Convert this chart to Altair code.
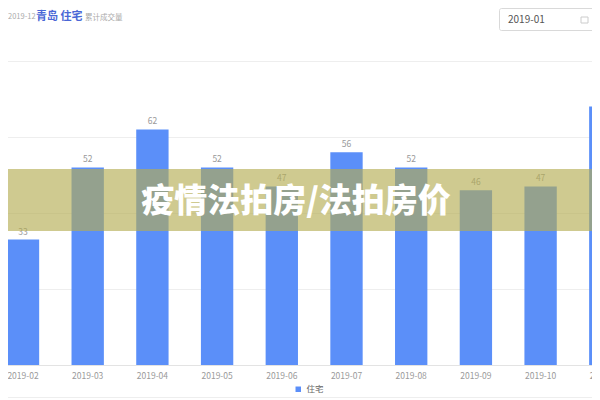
import altair as alt
import pandas as pd

# ---- data ----
months = ["2019-02", "2019-03", "2019-04", "2019-05", "2019-06",
          "2019-07", "2019-08", "2019-09", "2019-10", "2019-11"]
counts = [33, 52, 62, 52, 47, 56, 52, 46, 47, 68]
series = ["住宅"] * len(months)
grid_values = [0, 20, 40, 60, 80]

banner_title = ["疫情法拍房/法拍房价"]
header_date = ["2019-12"]
header_city = ["青岛 住宅"]
header_metric = ["累计成交量"]
picker_value = ["2019-01"]

FONT = "Noto Sans CJK SC"
BLUE = "#5b8ff9"

df = pd.DataFrame({"month": months, "count": counts, "type": series})

x = alt.X(
    "month:N", sort=months,
    scale=alt.Scale(domain=months, range=[-17.35, 629.65],
                    paddingInner=0.5, paddingOuter=0.25),
    axis=alt.Axis(title=None, labelAngle=0, ticks=False, domainColor="#e3e3e3",
                  labelColor="#9a9a9a", labelFontSize=8.5, labelPadding=6,
                  labelFont=FONT),
)
y = alt.Y(
    "count:Q",
    scale=alt.Scale(domain=[0, 80], range=[357, 53], nice=False, zero=True),
    axis=alt.Axis(title=None, labels=False, ticks=False, domain=False, grid=True,
                  values=grid_values, gridColor="#eeeeee"),
)

bars = alt.Chart(df).mark_bar().encode(
    x=x, y=y,
    color=alt.Color("type:N", scale=alt.Scale(domain=["住宅"], range=[BLUE]),
                    legend=alt.Legend(title=None, orient="none", legendX=286, legendY=377,
                                      direction="horizontal", symbolType="square",
                                      symbolSize=30, labelFontSize=8.5, labelColor="#666666",
                                      labelFont=FONT, symbolStrokeWidth=0, padding=0)),
)

labels = alt.Chart(df).mark_text(baseline="bottom", dy=-3, fontSize=8.5, color="#999999",
                                 font=FONT).encode(x=x, y=y, text="count:Q")

banner = alt.Chart(pd.DataFrame({"t": banner_title})).mark_rect(
    color="#b4ac52", opacity=0.64).encode(
    x=alt.value(-8), x2=alt.value(600), y=alt.value(161), y2=alt.value(223))

banner_text = alt.Chart(pd.DataFrame({"t": banner_title})).mark_text(
    fontSize=33, fontWeight=900, color="white", font=FONT,
    align="center", baseline="middle").encode(
    x=alt.value(288), y=alt.value(194), text="t:N")

h1 = alt.Chart(pd.DataFrame({"t": header_date})).mark_text(
    align="left", baseline="middle", fontSize=7.5, color="#aaaaaa", font=FONT).encode(
    x=alt.value(0), y=alt.value(9), text="t:N")
h2 = alt.Chart(pd.DataFrame({"t": header_city})).mark_text(
    align="left", baseline="middle", fontSize=11, fontWeight="bold", color="#4a67d6",
    font=FONT).encode(x=alt.value(28), y=alt.value(9), text="t:N")
h3 = alt.Chart(pd.DataFrame({"t": header_metric})).mark_text(
    align="left", baseline="middle", fontSize=7.5, color="#aaaaaa", font=FONT).encode(
    x=alt.value(77), y=alt.value(10), text="t:N")

box = alt.Chart(pd.DataFrame({"t": picker_value})).mark_rect(
    fill="white", stroke="#d9d9d9", strokeWidth=1, cornerRadius=2).encode(
    x=alt.value(491.5), x2=alt.value(620), y=alt.value(0.5), y2=alt.value(22.5))
box_text = alt.Chart(pd.DataFrame({"t": picker_value})).mark_text(
    align="left", baseline="middle", fontSize=10, color="#555555", font=FONT).encode(
    x=alt.value(500), y=alt.value(11.5), text="t:N")
icon = alt.Chart(pd.DataFrame({"t": picker_value})).mark_rect(
    fill="white", stroke="#cccccc", strokeWidth=1).encode(
    x=alt.value(573), x2=alt.value(580), y=alt.value(9), y2=alt.value(15))

bottom_line = alt.Chart(pd.DataFrame({"t": banner_title})).mark_rule(
    color="#eeeeee", strokeWidth=1).encode(
    x=alt.value(-8), x2=alt.value(600), y=alt.value(389.5))

chart = alt.layer(bars, labels, banner, banner_text, h1, h2, h3, box, box_text, icon,
                  bottom_line).properties(
    width=584, height=357,
    autosize=alt.AutoSizeParams(type="none"),
    padding={"left": 0, "top": 0, "right": 0, "bottom": 35},
).configure_view(stroke=None)

chart.save("out.html", embed_options={"renderer": "svg", "actions": False})
